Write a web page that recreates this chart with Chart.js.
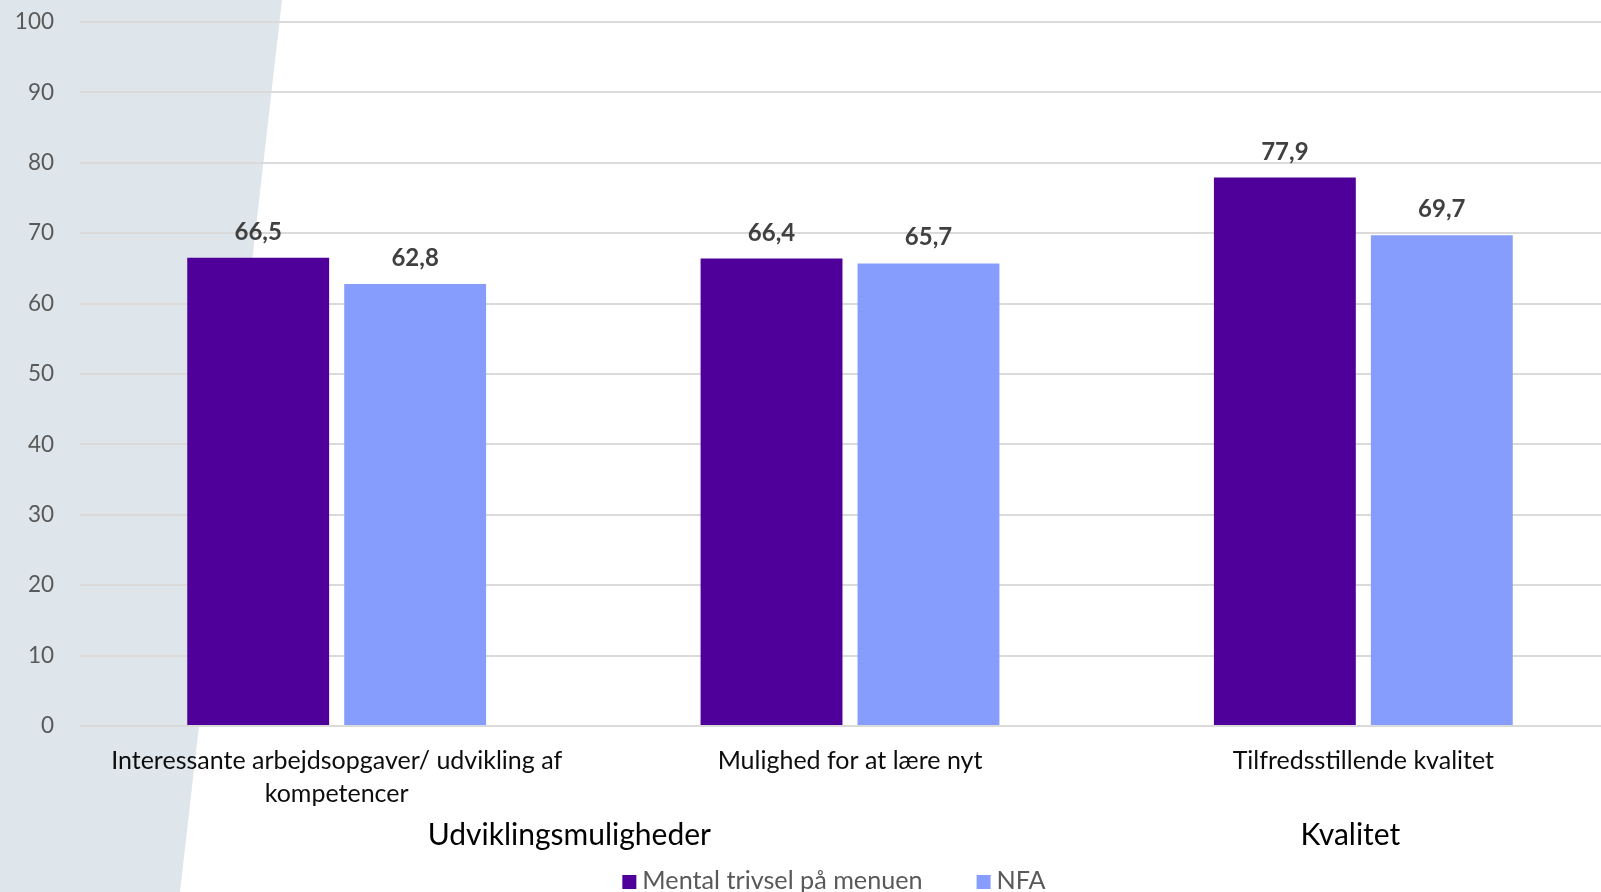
<!DOCTYPE html>
<html>
<head>
<meta charset="utf-8">
<script src="https://cdn.jsdelivr.net/npm/chart.js@4.4.1/dist/chart.umd.min.js"></script>
<style>
  html, body { margin: 0; padding: 0; overflow: hidden; background: #ffffff; }
  canvas { display: block; }
</style>
</head>
<body>
<canvas id="chart" width="1662" height="892"></canvas>
<script>
// Categories (inner level) and their outer grouping
const categories = [
  ["Interessante arbejdsopgaver/ udvikling af", "kompetencer"],
  "Mulighed for at lære nyt",
  "Tilfredsstillende kvalitet"
];
const groupLabels = ["Udviklingsmuligheder", "Kvalitet"];
const groupFirst = [0, 2];
const groupLast = [1, 2];

// Series
const seriesNames = ["Mental trivsel på menuen", "NFA"];
const mentalValues = [66.5, 66.4, 77.9];
const nfaValues = [62.8, 65.7, 69.7];

// Value axis
const yMin = 0;
const yMax = 100;
const yStep = 10;

const FONT = 'Lato, "Open Sans", sans-serif';
const PURPLE = '#50009A';
const BLUE = '#879DFD';

const fmt = v => v.toFixed(1).replace('.', ',');

// Pale slanted panel behind the left part of the chart
const panelPlugin = {
  id: 'panel',
  beforeDraw(chart) {
    const ctx = chart.ctx;
    ctx.save();
    ctx.fillStyle = '#ffffff';
    ctx.fillRect(0, 0, chart.width, chart.height);
    ctx.fillStyle = '#DEE6EB';
    ctx.beginPath();
    ctx.moveTo(0, 0);
    ctx.lineTo(282, 0);
    ctx.lineTo(180, chart.height);
    ctx.lineTo(0, chart.height);
    ctx.closePath();
    ctx.fill();
    ctx.restore();
  }
};

// Value labels above each bar
const valueLabelPlugin = {
  id: 'valueLabels',
  afterDatasetsDraw(chart) {
    const ctx = chart.ctx;
    ctx.save();
    ctx.font = 'bold 24px ' + FONT;
    ctx.fillStyle = '#404040';
    ctx.textAlign = 'center';
    ctx.textBaseline = 'alphabetic';
    chart.data.datasets.forEach((ds, di) => {
      chart.getDatasetMeta(di).data.forEach((bar, i) => {
        ctx.fillText(fmt(ds.data[i]), bar.x, bar.y - 18);
      });
    });
    ctx.restore();
  }
};

// Outer category labels and the legend
const groupNudge = [-24, -13];
const extrasPlugin = {
  id: 'extras',
  afterDraw(chart) {
    const ctx = chart.ctx;
    const x = chart.scales.x;
    ctx.save();
    ctx.fillStyle = '#000000';
    ctx.font = '30px ' + FONT;
    ctx.textAlign = 'center';
    ctx.textBaseline = 'alphabetic';
    const half = (x.getPixelForValue(1) - x.getPixelForValue(0)) / 2;
    groupLabels.forEach((g, i) => {
      const left = x.getPixelForValue(groupFirst[i]) - half;
      const right = x.getPixelForValue(groupLast[i]) + half;
      ctx.fillText(g, (left + right) / 2 + groupNudge[i], 845);
    });

    // legend
    ctx.font = '25.2px ' + FONT;
    const box = 14, gap = 6, spacing = 54;
    const widths = seriesNames.map(n => ctx.measureText(n).width);
    let total = 0;
    widths.forEach((w, i) => { total += box + gap + w + (i < widths.length - 1 ? spacing : 0); });
    let cx = chart.width / 2 - total / 2 + 3;
    const colors = chart.data.datasets.map(d => d.backgroundColor);
    ctx.textAlign = 'left';
    seriesNames.forEach((n, i) => {
      ctx.fillStyle = colors[i];
      ctx.fillRect(cx, 875, box, box);
      ctx.fillStyle = '#595959';
      ctx.fillText(n, cx + box + gap, 889);
      cx += box + gap + widths[i] + spacing;
    });
    ctx.restore();
  }
};

new Chart(document.getElementById('chart'), {
  type: 'bar',
  data: {
    labels: categories,
    datasets: [
      { label: seriesNames[0], data: mentalValues, backgroundColor: PURPLE },
      { label: seriesNames[1], data: nfaValues, backgroundColor: BLUE }
    ]
  },
  options: {
    responsive: false,
    animation: false,
    devicePixelRatio: 1,
    layout: { padding: { left: 0, top: 22, right: 42, bottom: 0 } },
    categoryPercentage: 0.6115,
    barPercentage: 0.904,
    plugins: {
      legend: { display: false },
      tooltip: { enabled: false }
    },
    scales: {
      x: {
        grid: { display: false, drawTicks: false },
        border: { display: false },
        ticks: {
          color: '#0D0D0D',
          font: { family: FONT, size: 25, lineHeight: 1.32 },
          padding: 18,
          maxRotation: 0,
          minRotation: 0,
          autoSkip: false
        },
        afterFit(scale) { scale.height = 166; }
      },
      y: {
        min: yMin,
        max: yMax,
        grid: { color: '#DADADA', lineWidth: 2, drawTicks: false },
        border: { display: false },
        ticks: {
          stepSize: yStep,
          color: '#595959',
          font: { family: FONT, size: 22.5 },
          padding: 26
        },
        afterFit(scale) {
          scale.width = 80;
          scale.paddingTop = 0;
          scale.paddingBottom = 0;
        }
      }
    }
  },
  plugins: [panelPlugin, valueLabelPlugin, extrasPlugin]
});
</script>
</body>
</html>
